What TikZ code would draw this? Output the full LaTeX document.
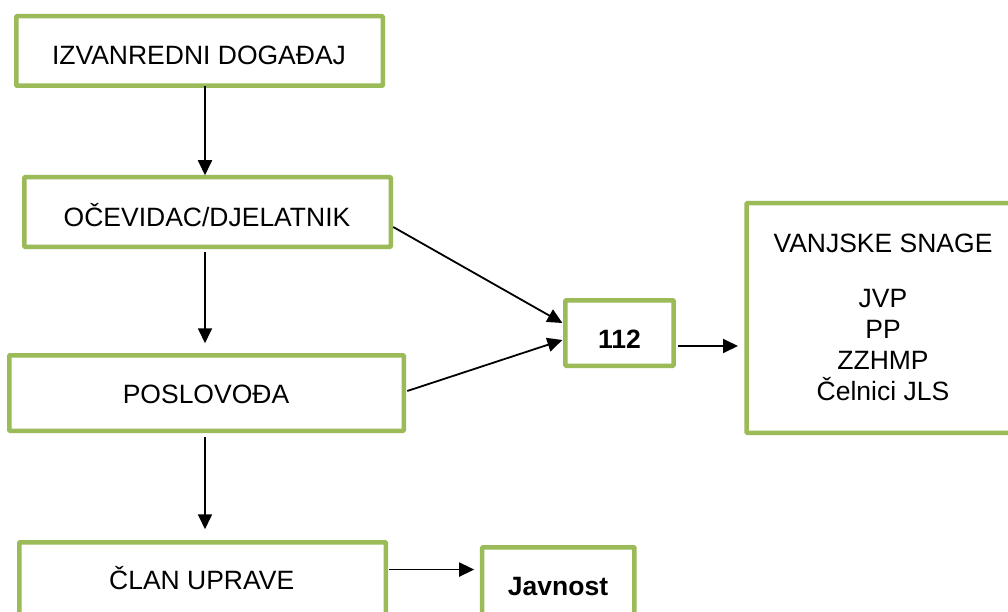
\documentclass[tikz,border=0pt]{standalone}
\usepackage{fontspec}
\setmainfont{Liberation Sans}
\usetikzlibrary{arrows.meta,calc}
\definecolor{boxgreen}{HTML}{9BBB59}
\tikzset{
  gbox/.style={draw=boxgreen, line width=4.5pt, fill=white, rectangle, inner sep=0pt, outer sep=0pt, rounded corners=0.8pt},
  lbl/.style={anchor=base, inner sep=0pt, font=\fontsize{26.5}{30.4}\selectfont},
  blbl/.style={lbl, font=\fontsize{26.5}{30.4}\selectfont\bfseries},
  arr/.style={draw=black, line width=1.8pt, -{Triangle[length=15pt,width=14pt]}}
}
\begin{document}
\begin{tikzpicture}[x=1pt,y=-1pt]
\useasboundingbox (0,0) rectangle (1008,612);
\clip (0,0) rectangle (1008,612);
% boxes
\node[gbox, minimum width=366.5pt, minimum height=69.5pt] (b1) at (199.5,51) {};
\node[gbox, minimum width=366.5pt, minimum height=69.5pt] (b2) at (207.5,212) {};
\node[gbox, minimum width=394.5pt, minimum height=75.5pt] (b3) at (206.5,393) {};
\node[gbox, minimum width=366.5pt, minimum height=80pt] (b4) at (202.5,582.25) {};
\node[gbox, minimum width=152.2pt, minimum height=80pt] (bj) at (558.3,587.25) {};
\node[gbox, minimum width=108.2pt, minimum height=65.5pt] (b112) at (619.5,333) {};
\node[gbox, minimum width=273.5pt, minimum height=229.5pt] (bv) at (883.25,318) {};
% texts
\node[lbl] (t1) at (199,64.5) {IZVANREDNI DOGAĐAJ};
\node[lbl] (t2) at (207,226.5) {OČEVIDAC/DJELATNIK};
\node[lbl] (t3) at (206,403.5) {POSLOVOĐA};
\node[lbl] (t4) at (201.7,589.5) {ČLAN UPRAVE};
\node[blbl] (t112) at (619.5,348) {112};
\node[blbl] (tj) at (558,595) {Javnost};
\node[lbl] (tv1) at (883,252) {VANJSKE SNAGE};
\node[lbl] (tv2) at (883,307) {JVP};
\node[lbl] (tv3) at (883,338) {PP};
\node[lbl] (tv4) at (883,369) {ZZHMP};
\node[lbl] (tv5) at (883,400) {Čelnici JLS};
% connectors
\draw[arr] (205,0 |- b1.south) -- ($(205,0 |- b2.north)+(0,-2)$);
\draw[arr] ($(205,0 |- b2.south)+(0,5)$) -- ($(205,0 |- b3.north)+(0,-12)$);
\draw[arr] ($(205,0 |- b3.south)+(0,6)$) -- ($(205,0 |- b4.north)+(0,-13)$);
\draw[arr] ($(b2.east)+(2.5,15)$) -- ($(b112.west)+(-3,-10)$);
\draw[arr] ($(b3.east)+(3.5,-2)$) -- ($(b112.west)+(-3,7)$);
\draw[arr] ($(b112.east)+(4.5,13)$) -- ($(bv.west)+(-8.5,28)$);
\draw[arr] ($(b4.east |- t4)+(3.5,-8.5)$) -- ($(bj.west |- t4)+(-8,-8.5)$);
\end{tikzpicture}
\end{document}
